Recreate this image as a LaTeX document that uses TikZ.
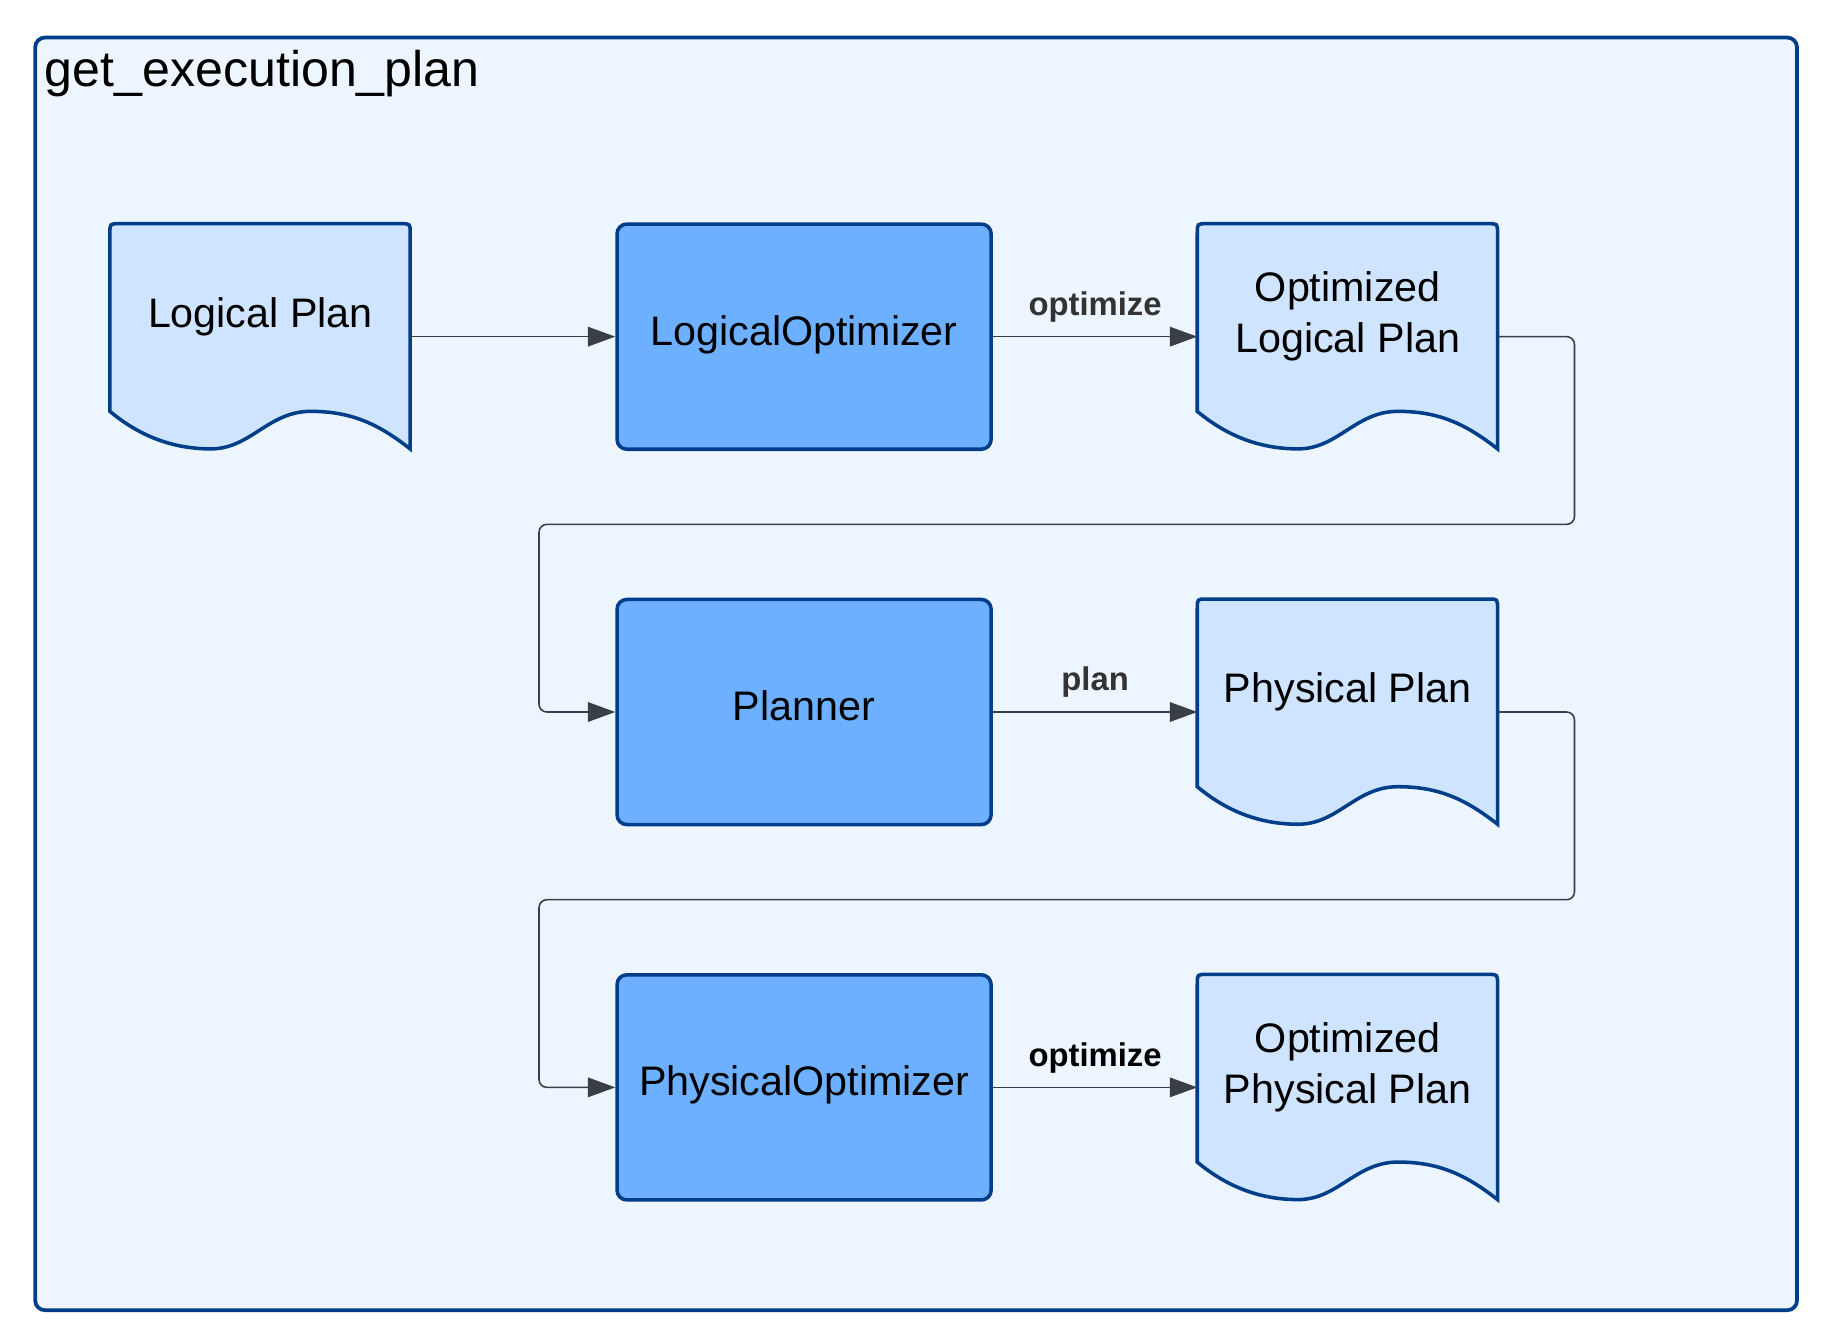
\documentclass[tikz,border=0pt]{standalone}
\usepackage{fontspec}
\setmainfont{Liberation Sans}
\usetikzlibrary{arrows.meta,calc,backgrounds}

\definecolor{planblue}{HTML}{003E8A}
\definecolor{framefill}{HTML}{EDF5FF}
\definecolor{boxfill}{HTML}{6DB0FF}
\definecolor{pagefill}{HTML}{CFE4FF}
\definecolor{flowgray}{HTML}{3A3F47}
\definecolor{labelgray}{HTML}{333333}

\tikzset{
	frame/.style={draw=planblue,fill=framefill,line width=1.9pt,rounded corners=5pt},
	optbox/.style={draw=planblue,fill=boxfill,line width=1.8pt,rounded corners=5pt,
		minimum width=190.4pt,minimum height=114.6pt,text height=15pt,text depth=6.5pt,
		font=\fontsize{21}{26}\selectfont},
	plandoc/.style={minimum width=152.8pt,minimum height=114.6pt,align=center,
		text depth=25pt,font=\fontsize{21}{26}\selectfont},
	pageline/.style={draw=planblue,fill=pagefill,line width=1.8pt},
	flow/.style={draw=flowgray,line width=0.8pt,rounded corners=4pt,
		-{Triangle[length=14pt,width=10pt]}},
	flowlabel/.style={above=7pt,inner sep=0pt,text=labelgray,
		font=\fontsize{16.7}{20}\selectfont\bfseries},
}

% outline of a document page round a plan node
\newcommand{\planpage}[1]{%
	\draw[pageline,shift={(#1.north west)}] (0,160) -- (0,8) .. controls (0,0) .. (8,0)
		-- (248,0) .. controls (256,0) .. (256,8) -- (256,192)
		.. controls (228,170) and (205,160) .. (171,160)
		.. controls (135,160) and (120,192) .. (86,192)
		.. controls (52,192) and (24,180) .. (0,160) -- cycle;}

\begin{document}
\begin{tikzpicture}[x=0.597pt,y=-0.597pt]
	\useasboundingbox (0,0) rectangle (1567.8,1145.7);
	%
	\node[plandoc] (lp) at (222,287) {Logical Plan};
	\node[optbox] (lopt) at (685.5,287) {LogicalOptimizer};
	\node[plandoc] (olp) at (1149,287) {Optimized\\Logical Plan};
	\node[optbox] (planner) at (685.5,607) {Planner};
	\node[plandoc] (pp) at (1149,607) {Physical Plan};
	\node[optbox] (popt) at (685.5,927) {PhysicalOptimizer};
	\node[plandoc] (opp) at (1149,927) {Optimized\\Physical Plan};
	%
	\begin{scope}[on background layer]
		\draw[frame] (30,32) rectangle (1532,1117);
		\planpage{lp}
		\planpage{olp}
		\planpage{pp}
		\planpage{opp}
	\end{scope}
	\node[anchor=base west,inner sep=0pt,font=\fontsize{25.5}{30}\selectfont] (title) at (38,74) {get\_execution\_plan};
	%
	\draw[flow] (lp.east) -- (lopt.west);
	\draw[flow] (lopt.east) -- node[flowlabel] {optimize} (olp.west);
	\draw[flow] (olp.east) -- ++(65,0) |- ($(planner.west)+(-65,-160)$) |- (planner.west);
	\draw[flow] (planner.east) -- node[flowlabel] {plan} (pp.west);
	\draw[flow] (pp.east) -- ++(65,0) |- ($(popt.west)+(-65,-160)$) |- (popt.west);
	\draw[flow] (popt.east) -- node[flowlabel,text=black] {optimize} (opp.west);
\end{tikzpicture}
\end{document}
